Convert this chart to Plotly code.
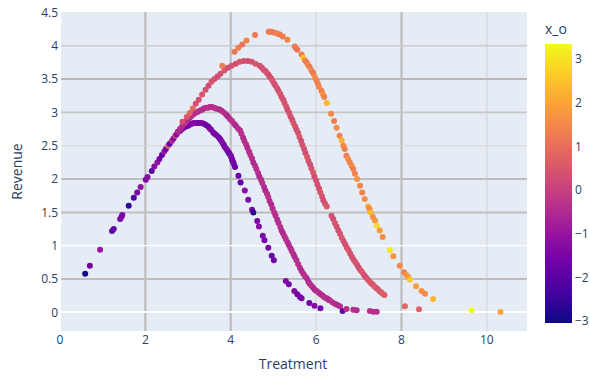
import plotly.graph_objects as go

# ---- data: (treatment, revenue, x_o) ----
shared = [
    (0.59, 0.58, -2.9), (0.70, 0.70, -1.7), (0.94, 0.94, -1.0), (1.22, 1.22, -2.0),
    (1.26, 1.25, -1.8), (1.41, 1.40, -1.6), (1.44, 1.43, -1.3), (1.46, 1.46, -1.5),
    (1.61, 1.60, -2.6), (1.73, 1.72, -2.2), (1.81, 1.80, -1.6), (1.89, 1.88, -1.1),
    (2.01, 1.99, -1.4), (2.05, 2.03, -1.2), (2.15, 2.12, -2.0), (2.21, 2.19, -1.2),
    (2.28, 2.25, -1.0), (2.33, 2.30, -1.5), (2.39, 2.36, -2.0), (2.44, 2.41, -0.8),
    (2.48, 2.45, -1.6), (2.53, 2.50, 0.6), (2.57, 2.53, -1.9), (2.62, 2.57, -0.5),
    (2.66, 2.61, -1.3), (2.70, 2.65, 0.2), (2.73, 2.67, -1.2), (2.77, 2.71, -0.6),
]

curve1 = [
    (2.81, 2.72, -1.6), (2.86, 2.75, -1.5), (2.90, 2.77, -1.4), (2.95, 2.79, -1.6),
    (3.00, 2.80, -1.7), (3.04, 2.82, -1.5), (3.09, 2.83, -1.5), (3.13, 2.84, -1.4),
    (3.18, 2.84, -1.3), (3.23, 2.84, -1.5), (3.28, 2.84, -1.6), (3.32, 2.84, -1.4),
    (3.37, 2.83, -1.5), (3.42, 2.81, -1.6), (3.47, 2.79, -1.8), (3.51, 2.76, -1.5),
    (3.54, 2.74, -1.4), (3.59, 2.70, -1.6), (3.62, 2.68, -1.5), (3.66, 2.66, -1.5),
    (3.71, 2.63, -1.6), (3.75, 2.60, -1.7), (3.78, 2.57, -1.4), (3.81, 2.54, -1.3),
    (3.84, 2.51, -1.5), (3.86, 2.48, -1.6), (3.89, 2.46, -1.4), (3.92, 2.43, -1.5),
    (3.95, 2.40, -1.6), (3.97, 2.38, -1.8), (4.00, 2.35, -1.5), (4.01, 2.33, -1.4),
    (4.03, 2.30, -1.5), (4.04, 2.28, -1.6), (4.06, 2.25, -1.7), (4.07, 2.23, -1.5),
    (4.10, 2.18, -1.9),
    (4.18, 2.05, -1.6), (4.23, 1.95, -1.9), (4.33, 1.83, -1.2), (4.41, 1.69, -1.4),
    (4.50, 1.54, -1.6), (4.53, 1.50, -2.6), (4.62, 1.37, -1.5), (4.66, 1.29, -1.3),
    (4.75, 1.15, -1.4), (4.79, 1.08, -1.6), (4.88, 0.97, -1.5), (4.96, 0.85, -1.8),
    (5.01, 0.78, -1.6), (5.29, 0.47, -1.4), (5.36, 0.42, -1.5), (5.49, 0.32, -1.3),
    (5.56, 0.27, -1.6), (5.62, 0.23, -1.4), (5.66, 0.21, -1.5), (5.84, 0.14, -1.6),
    (5.96, 0.10, -1.3), (6.10, 0.06, -1.5), (6.62, 0.02, -1.9),
]

curve2 = [
    (2.76, 2.71, -0.4), (2.81, 2.75, -0.3), (2.86, 2.79, -0.5), (2.91, 2.83, -0.4),
    (2.95, 2.86, -0.3), (3.00, 2.89, -0.5), (3.04, 2.92, -0.4), (3.09, 2.95, -0.3),
    (3.14, 2.98, -0.4), (3.19, 3.00, -0.5), (3.23, 3.01, -0.4), (3.28, 3.03, -0.3),
    (3.33, 3.04, -0.4), (3.37, 3.06, -0.5), (3.42, 3.07, -0.4), (3.47, 3.07, -0.3),
    (3.51, 3.08, -0.4), (3.56, 3.08, -0.5), (3.61, 3.07, -0.4), (3.65, 3.06, -0.3),
    (3.70, 3.05, -0.4), (3.75, 3.04, -0.5), (3.79, 3.02, -0.4), (3.84, 3.00, -0.3),
    (3.89, 2.97, -0.4), (3.93, 2.94, -0.5), (3.98, 2.90, -0.4), (4.03, 2.87, -0.3),
    (4.08, 2.83, -0.4), (4.12, 2.80, -0.5), (4.17, 2.76, -0.4),
    (4.22, 2.73, -0.4), (4.25, 2.68, -0.3), (4.29, 2.62, -0.5), (4.32, 2.57, -0.4),
    (4.36, 2.52, -0.3), (4.39, 2.47, -0.5), (4.43, 2.41, -0.4), (4.46, 2.36, -0.3),
    (4.50, 2.31, -0.4), (4.53, 2.25, -0.5), (4.57, 2.20, -0.4), (4.60, 2.15, -0.3),
    (4.64, 2.09, -0.4), (4.67, 2.04, -0.5), (4.71, 1.99, -0.4), (4.74, 1.94, -0.3),
    (4.78, 1.88, -0.4), (4.81, 1.83, -0.5), (4.85, 1.78, -0.4), (4.88, 1.73, -0.3),
    (4.91, 1.67, -0.4), (4.95, 1.62, -0.5), (4.98, 1.56, -0.4), (5.02, 1.50, -0.3),
    (5.05, 1.45, -0.4), (5.09, 1.39, -0.5), (5.12, 1.34, -0.4), (5.16, 1.28, -0.3),
    (5.19, 1.23, -0.4), (5.22, 1.19, -0.5), (5.26, 1.14, -0.4), (5.29, 1.10, -0.3),
    (5.33, 1.05, -0.4), (5.36, 1.01, -0.5), (5.40, 0.96, -0.4), (5.43, 0.92, -0.3),
    (5.47, 0.87, -0.4), (5.50, 0.83, -0.5), (5.54, 0.78, -0.4), (5.58, 0.72, -0.3),
    (5.62, 0.67, -0.4), (5.66, 0.62, -0.5), (5.70, 0.58, -0.4), (5.74, 0.54, -0.3),
    (5.78, 0.51, -0.4), (5.82, 0.46, -0.5), (5.85, 0.43, -0.4), (5.89, 0.40, -0.3),
    (5.93, 0.37, -0.4), (5.97, 0.34, -0.5), (6.01, 0.32, -0.4), (6.05, 0.30, -0.3),
    (6.09, 0.28, -0.4), (6.13, 0.26, -0.5), (6.17, 0.24, -0.4), (6.21, 0.22, -0.3),
    (6.25, 0.21, -0.4), (6.29, 0.19, -0.5), (6.32, 0.18, -0.4), (6.38, 0.15, -0.3),
    (6.44, 0.13, -0.4), (6.50, 0.11, -0.5), (6.56, 0.09, -0.4),
    (6.71, 0.05, -0.4), (6.87, 0.04, -0.3), (6.95, 0.03, -0.5), (7.26, 0.02, -0.4),
    (7.34, 0.01, -0.3), (7.42, 0.01, -0.4),
]

curve3 = [
    (2.87, 2.86, 0.3), (2.97, 2.93, 0.5), (3.04, 2.99, 0.8), (3.11, 3.06, 0.9),
    (3.18, 3.13, 0.4), (3.25, 3.19, 0.3), (3.33, 3.27, 0.5), (3.41, 3.34, 0.4),
    (3.48, 3.40, 0.3), (3.55, 3.46, 0.5), (3.62, 3.50, 0.4), (3.69, 3.54, 0.3),
    (3.76, 3.58, 0.4), (3.85, 3.63, 0.5), (3.93, 3.67, 0.3), (4.02, 3.70, 0.4),
    (4.12, 3.73, 0.3), (4.21, 3.76, 0.5), (4.30, 3.77, 0.4), (4.40, 3.77, 0.3),
    (4.49, 3.76, 0.4), (4.58, 3.73, 0.5), (4.68, 3.70, 0.3), (4.73, 3.67, 0.4),
    (4.77, 3.64, 0.4), (4.81, 3.62, 0.3), (4.84, 3.60, 0.5), (4.88, 3.57, 0.4),
    (4.91, 3.54, 0.3), (4.95, 3.51, 0.4), (4.98, 3.47, 0.5), (5.02, 3.43, 0.3),
    (5.05, 3.40, 0.4), (5.09, 3.36, 0.4), (5.12, 3.32, 0.3), (5.16, 3.28, 0.5),
    (5.19, 3.23, 0.4), (5.23, 3.19, 0.3), (5.26, 3.14, 0.4), (5.30, 3.09, 0.5),
    (5.33, 3.04, 0.3), (5.37, 2.99, 0.4), (5.40, 2.94, 0.4), (5.44, 2.89, 0.3),
    (5.47, 2.84, 0.5), (5.51, 2.79, 0.4), (5.54, 2.74, 0.3), (5.58, 2.69, 0.4),
    (5.61, 2.63, 0.5), (5.65, 2.57, 0.3), (5.68, 2.51, 0.4), (5.72, 2.45, 0.4),
    (5.75, 2.39, 0.3), (5.79, 2.33, 0.5), (5.82, 2.27, 0.4), (5.86, 2.22, 0.3),
    (5.89, 2.16, 0.4), (5.93, 2.10, 0.5), (5.96, 2.04, 0.3), (6.00, 1.98, 0.4),
    (6.03, 1.92, 0.4), (6.07, 1.86, 0.3), (6.10, 1.80, 0.5), (6.14, 1.74, 0.4),
    (6.17, 1.68, 0.3), (6.21, 1.63, 0.4), (6.25, 1.59, 0.5),
    (6.36, 1.45, 0.4), (6.40, 1.40, 0.3), (6.44, 1.34, 0.5), (6.48, 1.29, 0.4),
    (6.52, 1.23, 0.3), (6.56, 1.18, 0.4), (6.60, 1.12, 0.5), (6.64, 1.07, 0.4),
    (6.68, 1.02, 0.3), (6.72, 0.97, 0.4), (6.76, 0.93, 0.5), (6.80, 0.88, 0.4),
    (6.84, 0.83, 0.3), (6.88, 0.79, 0.4), (6.92, 0.75, 0.5), (6.96, 0.71, 0.4),
    (7.00, 0.67, 0.3), (7.04, 0.63, 0.4), (7.08, 0.60, 0.6), (7.12, 0.56, 0.4),
    (7.16, 0.53, 0.3), (7.20, 0.50, 0.5), (7.24, 0.47, 0.4), (7.28, 0.44, 0.6),
    (7.32, 0.42, 0.4), (7.36, 0.39, 0.5), (7.40, 0.37, 0.7), (7.44, 0.35, 0.4),
    (7.48, 0.32, 0.6), (7.52, 0.30, 0.5), (7.56, 0.28, 0.7), (7.60, 0.26, 0.6),
    (8.08, 0.09, 0.8), (8.41, 0.045, 0.7),
]

curve4 = [
    (3.80, 3.70, 1.3), (4.09, 3.91, 1.2), (4.18, 3.97, 1.3), (4.27, 4.02, 1.1),
    (4.37, 4.08, 1.4), (4.57, 4.16, 1.2), (4.89, 4.21, 1.3), (4.93, 4.21, 1.1),
    (4.96, 4.21, 1.4), (5.01, 4.20, 1.2), (5.06, 4.19, 1.3), (5.10, 4.18, 1.5),
    (5.15, 4.17, 1.2), (5.22, 4.14, 1.3), (5.33, 4.09, 1.4), (5.50, 3.99, 1.2),
    (5.53, 3.96, 1.3), (5.56, 3.94, 1.1), (5.66, 3.87, 1.3), (5.70, 3.82, 2.6),
    (5.74, 3.78, 1.4), (5.78, 3.75, 1.2), (5.81, 3.71, 1.5), (5.85, 3.68, 1.3),
    (5.89, 3.63, 1.4), (5.93, 3.59, 1.2), (5.97, 3.53, 1.6), (6.01, 3.48, 1.3),
    (6.04, 3.43, 1.4), (6.07, 3.38, 1.5), (6.13, 3.32, 1.3), (6.16, 3.27, 1.7),
    (6.19, 3.23, 1.4), (6.25, 3.14, 2.3), (6.35, 2.98, 1.5), (6.42, 2.87, 1.3),
    (6.48, 2.77, 1.6), (6.55, 2.65, 1.4), (6.60, 2.58, 2.2), (6.64, 2.50, 1.5),
    (6.67, 2.45, 1.4), (6.71, 2.35, 1.3), (6.75, 2.30, 1.6), (6.79, 2.25, 1.4),
    (6.83, 2.20, 1.5), (6.87, 2.15, 1.3), (6.91, 2.08, 1.4), (6.96, 2.00, 1.7),
    (7.03, 1.90, 1.5), (7.08, 1.80, 1.4), (7.14, 1.70, 1.6), (7.22, 1.59, 2.1),
    (7.25, 1.55, 1.5), (7.28, 1.50, 2.4), (7.33, 1.43, 1.6), (7.38, 1.38, 1.7),
    (7.42, 1.30, 2.9), (7.49, 1.23, 1.8), (7.56, 1.13, 1.6), (7.73, 0.93, 3.1),
    (7.81, 0.84, 1.7), (7.96, 0.70, 1.5), (8.06, 0.60, 1.4), (8.11, 0.56, 1.6),
    (8.16, 0.53, 1.8), (8.20, 0.49, 2.6), (8.34, 0.39, 1.9), (8.47, 0.32, 1.7),
    (8.55, 0.28, 1.5), (8.74, 0.20, 2.3), (9.64, 0.03, 3.33), (10.32, 0.005, 2.0),
]

x_ticks = [0, 2, 4, 6, 8, 10]
y_ticks = [0, 0.5, 1, 1.5, 2, 2.5, 3, 3.5, 4, 4.5]
color_ticks = [-3, -2, -1, 0, 1, 2, 3]

# ---- styling of grid lines (as seen in the picture) ----
vgrid_style = {2: ("#bdbdbd", 2.2), 4: ("#bdbdbd", 2.2), 6: ("#d5d5d5", 1.2),
               8: ("#bdbdbd", 2.2), 10: ("#d5d5d5", 1.2)}
hgrid_style = {0.5: ("#bebebe", 2.0), 1: ("#ffffff", 1.3), 1.5: ("#bebebe", 2.0),
               2: ("#bebebe", 2.0), 2.5: ("#d8d8d8", 1.2), 3: ("#c6c6c6", 1.8),
               3.5: ("#b9b9b9", 2.0), 4: ("#cbcbcb", 1.6)}

points = curve1 + curve2 + curve3 + curve4 + shared
tx = [p[0] for p in points]
ry = [p[1] for p in points]
xo = [p[2] for p in points]

fig = go.Figure(go.Scatter(
    x=tx, y=ry, mode="markers",
    marker=dict(size=6, color=xo, colorscale="Plasma", cmin=-3.04, cmax=3.35,
                colorbar=dict(title=dict(text="x_o"), tickvals=color_ticks,
                              x=1.017, thickness=27, ypad=8, outlinewidth=0)),
    showlegend=False,
))

shapes = []
for v in x_ticks:
    if v in vgrid_style:
        c, w = vgrid_style[v]
        shapes.append(dict(type="line", xref="x", yref="paper", x0=v, x1=v, y0=0, y1=1,
                           line=dict(color=c, width=w), layer="below"))
for v in y_ticks:
    if v in hgrid_style:
        c, w = hgrid_style[v]
        shapes.append(dict(type="line", xref="paper", yref="y", x0=0, x1=1, y0=v, y1=v,
                           line=dict(color=c, width=w), layer="below"))

fig.update_layout(
    width=590, height=377,
    margin=dict(l=59, r=63, t=12, b=46, autoexpand=False),
    shapes=shapes,
    xaxis=dict(title=dict(text="Treatment", standoff=12), range=[-0.023, 10.94],
               tickvals=x_ticks, showgrid=False, zeroline=True, automargin=False),
    yaxis=dict(title=dict(text="Revenue"), range=[-0.28, 4.507], tickvals=y_ticks,
               showgrid=False, zeroline=True, automargin=False),
)

fig.write_html("out.html")
